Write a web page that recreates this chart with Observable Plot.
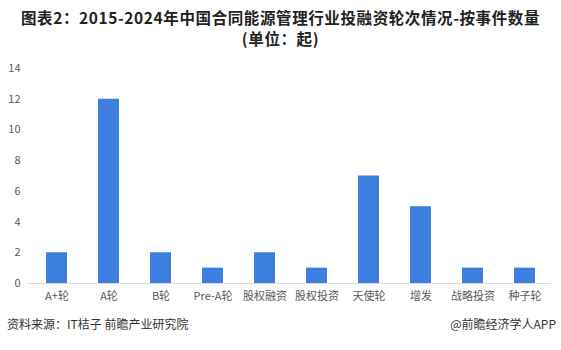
<!DOCTYPE html>
<html>
<head>
<meta charset="utf-8">
<script src="https://cdn.jsdelivr.net/npm/d3@7"></script>
<script src="https://cdn.jsdelivr.net/npm/@observablehq/plot@0.6"></script>
<style>
  html, body { margin: 0; padding: 0; background: #fff; }
  body { width: 561px; height: 350px; overflow: hidden; font-family: "Noto Sans CJK SC", "Noto Sans", sans-serif; }
  #title { height: 50px; box-sizing: border-box; padding-top: 7px; text-align: center; font-weight: bold; font-size: 15.5px; line-height: 21px; color: #222; letter-spacing: 0.6px; }
  #title div { white-space: nowrap; }
  #chart { height: 262px; }
  #footer { position: relative; height: 38px; font-size: 12px; color: #333; }
  #footer .l { position: absolute; left: 7px; top: 3px; }
  #footer .r { position: absolute; right: 5px; top: 3px; }
</style>
</head>
<body>
<div id="title"><div>图表2：2015-2024年中国合同能源管理行业投融资轮次情况-按事件数量</div><div>(单位：起)</div></div>
<div id="chart"></div>
<div id="footer"><span class="l">资料来源：IT桔子 前瞻产业研究院</span><span class="r">@前瞻经济学人APP</span></div>
<script>
const categories = ["A+轮", "A轮", "B轮", "Pre-A轮", "股权融资", "股权投资", "天使轮", "增发", "战略投资", "种子轮"];
const counts = [2, 12, 2, 1, 2, 1, 7, 5, 1, 1];
const yTicks = [0, 2, 4, 6, 8, 10, 12, 14];

const data = categories.map((c, i) => ({category: c, value: counts[i]}));

const chart = Plot.plot({
  width: 561,
  height: 262,
  marginTop: 18,
  marginBottom: 29,
  marginLeft: 29,
  marginRight: 10,
  style: {fontFamily: "'Noto Sans CJK SC', sans-serif", fontSize: "11px", color: "#595959", background: "#fff"},
  x: {domain: categories, paddingInner: 0.6, paddingOuter: 0.3, label: null, tickSize: 0, tickPadding: 9},
  y: {domain: [0, 14], ticks: yTicks, label: null, tickSize: 0, tickPadding: 9},
  marks: [
    Plot.barY(data, {x: "category", y: "value", fill: "#3d7fde"}),
    Plot.ruleY([0], {stroke: "#d9d9d9", strokeWidth: 1})
  ]
});
document.getElementById("chart").appendChild(chart);
</script>
</body>
</html>
